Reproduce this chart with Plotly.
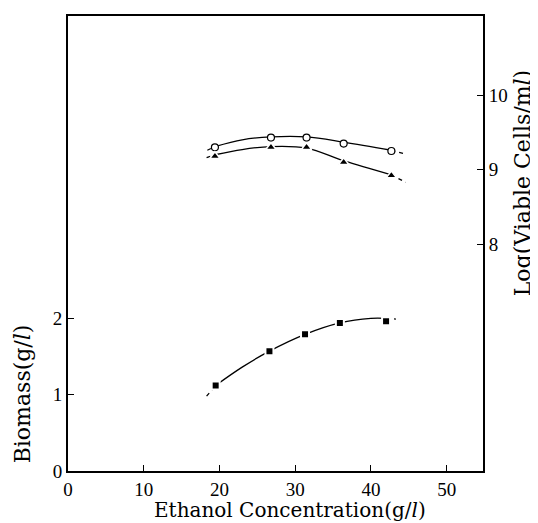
import plotly.graph_objects as go

# ---- data ----
ethanol_biomass = [19.5, 26.6, 31.3, 35.9, 42.0]
biomass = [1.12, 1.57, 1.79, 1.94, 1.96]

ethanol_cells = [19.4, 26.8, 31.5, 36.4, 42.7]
viable_open = [9.30, 9.43, 9.43, 9.35, 9.25]
viable_tri = [9.18, 9.30, 9.30, 9.10, 8.92]

# fitted curves (as drawn in the figure)
biomass_fit_x = [19.5, 23.0, 26.6, 31.3, 35.9, 40.0, 42.0]
biomass_fit_y = [1.12, 1.36, 1.57, 1.79, 1.94, 2.00, 2.00]
biomass_ext_left_x = [18.3, 19.5]
biomass_ext_left_y = [0.98, 1.12]
biomass_ext_right_x = [42.0, 43.3]
biomass_ext_right_y = [2.00, 1.99]

open_fit_x = [19.4, 23.0, 26.8, 31.5, 36.4, 42.7]
open_fit_y = [9.31, 9.40, 9.44, 9.44, 9.37, 9.26]
open_ext_x = [42.7, 44.6]
open_ext_y = [9.26, 9.21]
open_ext_left_x = [18.4, 19.4]
open_ext_left_y = [9.26, 9.31]

tri_fit_x = [19.4, 23.0, 26.8, 31.5, 36.4, 42.7]
tri_fit_y = [9.20, 9.27, 9.31, 9.29, 9.12, 8.93]
tri_ext_x = [42.7, 44.6]
tri_ext_y = [8.93, 8.83]
tri_ext_left_x = [18.3, 19.4]
tri_ext_left_y = [9.16, 9.20]

x_ticks = [0, 10, 20, 30, 40, 50]
left_ticks = [0, 1, 2]
right_ticks = [8, 9, 10]

FONT = "Liberation Serif"
TFONT = "DejaVu Serif"
line = dict(color="black", width=1.3)
dline = dict(color="black", width=1.3, dash="4px,4px")

fig = go.Figure()

# curves
fig.add_trace(go.Scatter(x=biomass_fit_x, y=biomass_fit_y, mode="lines",
                         line=dict(shape="spline", **line), yaxis="y"))
fig.add_trace(go.Scatter(x=biomass_ext_left_x, y=biomass_ext_left_y, mode="lines", line=dline, yaxis="y"))
fig.add_trace(go.Scatter(x=biomass_ext_right_x, y=biomass_ext_right_y, mode="lines", line=dline, yaxis="y"))

fig.add_trace(go.Scatter(x=open_fit_x, y=open_fit_y, mode="lines",
                         line=dict(shape="spline", **line), yaxis="y2"))
fig.add_trace(go.Scatter(x=open_ext_x, y=open_ext_y, mode="lines", line=dline, yaxis="y2"))
fig.add_trace(go.Scatter(x=open_ext_left_x, y=open_ext_left_y, mode="lines", line=dline, yaxis="y2"))

fig.add_trace(go.Scatter(x=tri_fit_x, y=tri_fit_y, mode="lines",
                         line=dict(shape="spline", **line), yaxis="y2"))
fig.add_trace(go.Scatter(x=tri_ext_x, y=tri_ext_y, mode="lines", line=dline, yaxis="y2"))
fig.add_trace(go.Scatter(x=tri_ext_left_x, y=tri_ext_left_y, mode="lines", line=dline, yaxis="y2"))

# markers
fig.add_trace(go.Scatter(x=ethanol_biomass, y=biomass, mode="markers", yaxis="y",
                         marker=dict(symbol="square", size=8, color="black",
                                     line=dict(color="white", width=2))))
fig.add_trace(go.Scatter(x=ethanol_cells, y=viable_open, mode="markers", yaxis="y2",
                         marker=dict(symbol="circle", size=7, color="white",
                                     line=dict(color="black", width=1.2))))
fig.add_trace(go.Scatter(x=ethanol_cells, y=viable_tri, mode="markers", yaxis="y2",
                         marker=dict(symbol="triangle-up", size=9, color="black",
                                     line=dict(color="white", width=1.5))))

# page body has an 8px margin: figure starts at (8, 8)
PW, PH = 415, 457  # plot area size
fig.update_layout(
    width=530, height=515,
    margin=dict(l=60, r=55, t=6, b=52),
    paper_bgcolor="white", plot_bgcolor="white",
    showlegend=False,
    font=dict(family=FONT, size=19, color="black"),
    xaxis=dict(range=[0, 54.8], tickvals=x_ticks, ticks="inside", ticklen=6,
               tickwidth=1.3, tickcolor="black", showline=True, linecolor="black",
               linewidth=2, mirror=True, showgrid=False, zeroline=False,
               tickfont=dict(family=FONT, size=19)),
    yaxis=dict(range=[0, 5.96], tickvals=left_ticks, ticks="inside", ticklen=6,
               tickwidth=1.3, tickcolor="black", showline=True, linecolor="black",
               linewidth=2, showgrid=False, zeroline=False,
               tickfont=dict(family=FONT, size=19)),
    yaxis2=dict(range=[4.96, 11.06], tickvals=right_ticks, ticks="inside", ticklen=6,
                tickwidth=1.3, tickcolor="black", overlaying="y", side="right",
                showline=True, linecolor="black", linewidth=2, showgrid=False,
                zeroline=False, tickfont=dict(family=FONT, size=19)),
    annotations=[
        dict(text="Ethanol Concentration(g/<i>l</i>)", xref="paper", yref="paper",
             x=(290 - 68) / PW, y=-(510 - 471) / PH, xanchor="center", yanchor="middle",
             showarrow=False, font=dict(family=TFONT, size=20)),
        dict(text="Biomass(g/<i>l</i>)", xref="paper", yref="paper",
             x=-(68 - 22) / PW, y=(471 - 394) / PH, xanchor="center", yanchor="middle",
             textangle=-90, showarrow=False, font=dict(family=TFONT, size=22)),
        dict(text="Log(Viable Cells/m<i>l</i>)", xref="paper", yref="paper",
             x=(522 - 68) / PW, y=(471 - 182) / PH, xanchor="center", yanchor="middle",
             textangle=-90, showarrow=False, font=dict(family=TFONT, size=22)),
    ],
)

fig.write_html("out.html")
